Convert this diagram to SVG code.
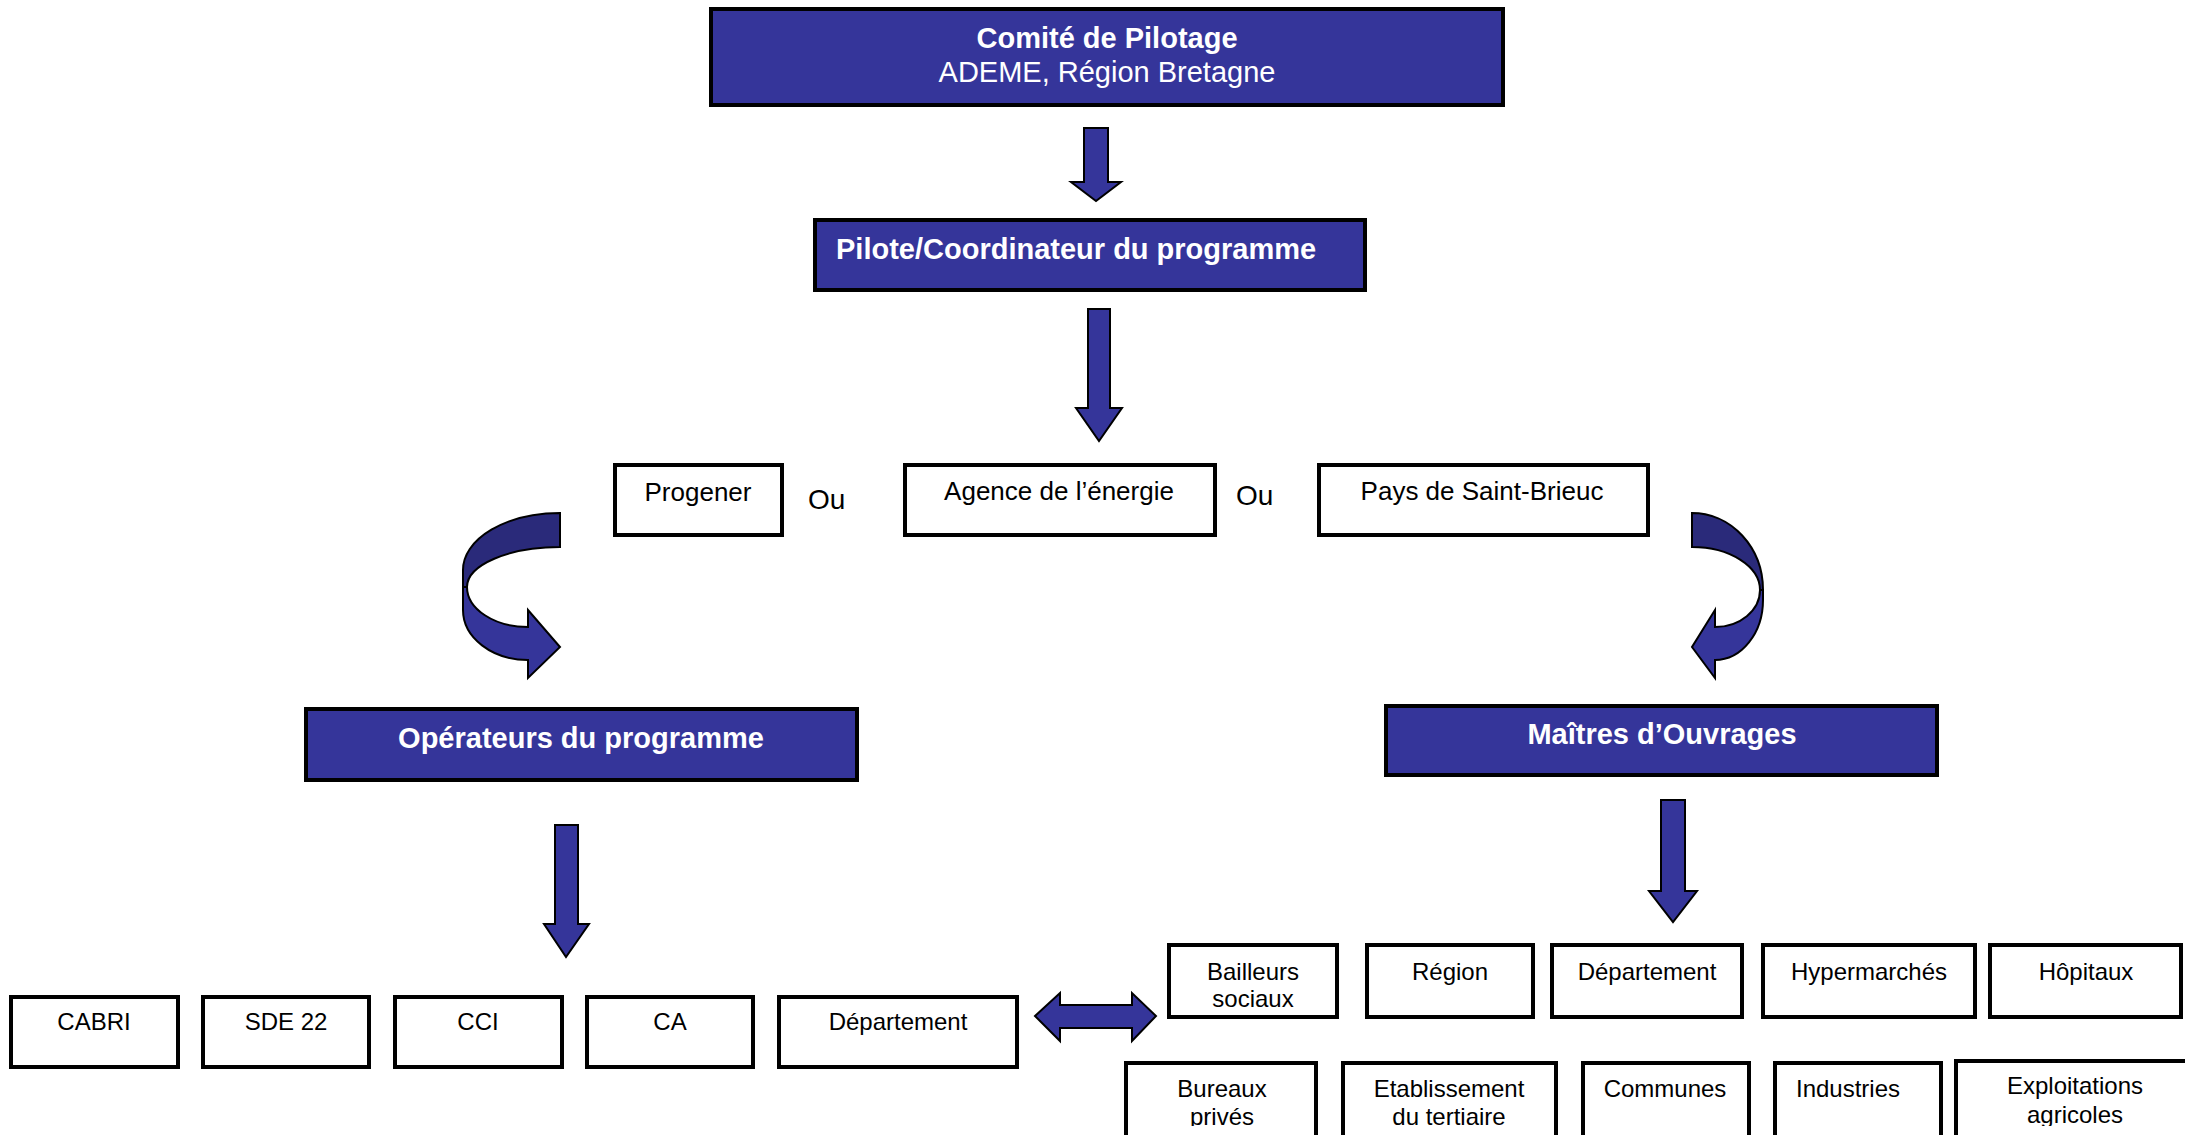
<svg xmlns="http://www.w3.org/2000/svg" width="2185" height="1135" viewBox="0 0 2185 1135">
<style>
  .blue { fill: #35359a; stroke: #000; stroke-width: 4; }
  .white { fill: #fff; stroke: #000; stroke-width: 4; }
  .arrow { fill: #35359a; stroke: #000; stroke-width: 2; stroke-linejoin: miter; }
  .dark { fill: #2a2a7a; stroke: #000; stroke-width: 2; }
  text { font-family: "Liberation Sans", Arial, sans-serif; }
  .tb { fill: #fff; font-weight: bold; font-size: 29px; }
  .tr { fill: #fff; font-size: 29px; }
  .t26 { fill: #000; font-size: 26px; }
  .t24 { fill: #000; font-size: 24px; }
  .ou { fill: #000; font-size: 28px; }
</style>
<defs>
  <clipPath id="clipRow1"><rect x="0" y="900" width="2185" height="107.5"/></clipPath>
  <clipPath id="clipRow2"><rect x="0" y="1040" width="2185" height="86"/></clipPath>
</defs>
<rect x="0" y="0" width="2185" height="1135" fill="#fff"/>

<g id="connectors">
  <polygon class="arrow" points="1084,128 1108,128 1108,182 1121,182 1096,201 1071,182 1084,182"/>
  <polygon class="arrow" points="1088,309 1110,309 1110,408 1122,408 1099,441 1076,408 1088,408"/>
  <polygon class="arrow" points="555,825 578,825 578,924 589,924 566,957 544,924 555,924"/>
  <polygon class="arrow" points="1661,800 1685,800 1685,891 1697,891 1673,922 1649,891 1661,891"/>
  <polygon class="arrow" points="1035,1016 1060,993 1060,1005 1132,1005 1132,993 1156,1016 1132,1041 1132,1028 1060,1028 1060,1041"/>
  <!-- left curved arrow -->
  <path class="dark" d="M560,513 A97,57 0 0 0 463,570 L463,587 L467,587 A93,40 0 0 1 560,547 Z"/>
  <path class="arrow" d="M467,587 A61,40 0 0 0 528,627 L528,610 L560,647 L528,678 L528,660 A65,50 0 0 1 463,610 L463,587 Z"/>
  <!-- right curved arrow -->
  <path class="dark" d="M1692,513 A71,77 0 0 1 1763,590 L1760,590 A68,43 0 0 0 1692,547 Z"/>
  <path class="arrow" d="M1763,590 L1763,600 A48,60 0 0 1 1715,660 L1715,678 L1692,647 L1715,610 L1715,627 A45,37 0 0 0 1760,590 Z"/>
</g>

<g id="comite">
  <rect class="blue" x="711" y="9" width="792" height="96"/>
  <text class="tb" x="1107" y="48" text-anchor="middle">Comité de Pilotage</text>
  <text class="tr" x="1107" y="82" text-anchor="middle">ADEME, Région Bretagne</text>
</g>
<g id="pilote">
  <rect class="blue" x="815" y="220" width="550" height="70"/>
  <text class="tb" x="836" y="259">Pilote/Coordinateur du programme</text>
</g>
<g id="progener">
  <rect class="white" x="615" y="465" width="167" height="70"/>
  <text class="t26" x="698" y="501" text-anchor="middle">Progener</text>
</g>
<g id="ou1"><text class="ou" x="808" y="509">Ou</text></g>
<g id="agence">
  <rect class="white" x="905" y="465" width="310" height="70"/>
  <text class="t26" x="1059" y="500" text-anchor="middle">Agence de l’énergie</text>
</g>
<g id="ou2"><text class="ou" x="1236" y="505">Ou</text></g>
<g id="pays">
  <rect class="white" x="1319" y="465" width="329" height="70"/>
  <text class="t26" x="1482" y="500" text-anchor="middle">Pays de Saint-Brieuc</text>
</g>
<g id="operateurs">
  <rect class="blue" x="306" y="709" width="551" height="71"/>
  <text class="tb" x="581" y="748" text-anchor="middle">Opérateurs du programme</text>
</g>
<g id="maitres">
  <rect class="blue" x="1386" y="706" width="551" height="69"/>
  <text class="tb" x="1662" y="744" text-anchor="middle">Maîtres d’Ouvrages</text>
</g>

<g id="cabri">
  <rect class="white" x="11" y="997" width="167" height="70"/>
  <text class="t24" x="94" y="1030" text-anchor="middle">CABRI</text>
</g>
<g id="sde22">
  <rect class="white" x="203" y="997" width="166" height="70"/>
  <text class="t24" x="286" y="1030" text-anchor="middle">SDE 22</text>
</g>
<g id="cci">
  <rect class="white" x="395" y="997" width="167" height="70"/>
  <text class="t24" x="478" y="1030" text-anchor="middle">CCI</text>
</g>
<g id="ca">
  <rect class="white" x="587" y="997" width="166" height="70"/>
  <text class="t24" x="670" y="1030" text-anchor="middle">CA</text>
</g>
<g id="departement1">
  <rect class="white" x="779" y="997" width="238" height="70"/>
  <text class="t24" x="898" y="1030" text-anchor="middle">Département</text>
</g>

<g id="bailleurs">
  <rect class="white" x="1169" y="945" width="168" height="72"/>
  <g clip-path="url(#clipRow1)">
    <text class="t24" x="1253" y="980" text-anchor="middle">Bailleurs</text>
    <text class="t24" x="1253" y="1007" text-anchor="middle">sociaux</text>
  </g>
</g>
<g id="region">
  <rect class="white" x="1367" y="945" width="166" height="72"/>
  <text class="t24" x="1450" y="980" text-anchor="middle">Région</text>
</g>
<g id="departement2">
  <rect class="white" x="1552" y="945" width="190" height="72"/>
  <text class="t24" x="1647" y="980" text-anchor="middle">Département</text>
</g>
<g id="hypermarches">
  <rect class="white" x="1763" y="945" width="212" height="72"/>
  <text class="t24" x="1869" y="980" text-anchor="middle">Hypermarchés</text>
</g>
<g id="hopitaux">
  <rect class="white" x="1990" y="945" width="191" height="72"/>
  <text class="t24" x="2086" y="980" text-anchor="middle">Hôpitaux</text>
</g>

<g id="bureaux">
  <rect class="white" x="1126" y="1063" width="190" height="90"/>
  <g clip-path="url(#clipRow2)">
    <text class="t24" x="1222" y="1097" text-anchor="middle">Bureaux</text>
    <text class="t24" x="1222" y="1125" text-anchor="middle">privés</text>
  </g>
</g>
<g id="etablissement">
  <rect class="white" x="1343" y="1063" width="213" height="90"/>
  <g clip-path="url(#clipRow2)">
    <text class="t24" x="1449" y="1097" text-anchor="middle">Etablissement</text>
    <text class="t24" x="1449" y="1125" text-anchor="middle">du tertiaire</text>
  </g>
</g>
<g id="communes">
  <rect class="white" x="1583" y="1063" width="166" height="90"/>
  <text class="t24" x="1665" y="1097" text-anchor="middle">Communes</text>
</g>
<g id="industries">
  <rect class="white" x="1775" y="1063" width="166" height="90"/>
  <text class="t24" x="1848" y="1097" text-anchor="middle">Industries</text>
</g>
<g id="exploitations">
  <rect class="white" x="1956" y="1061" width="240" height="92"/>
  <g clip-path="url(#clipRow2)">
    <text class="t24" x="2075" y="1094" text-anchor="middle">Exploitations</text>
    <text class="t24" x="2075" y="1123" text-anchor="middle">agricoles</text>
  </g>
</g>
</svg>
